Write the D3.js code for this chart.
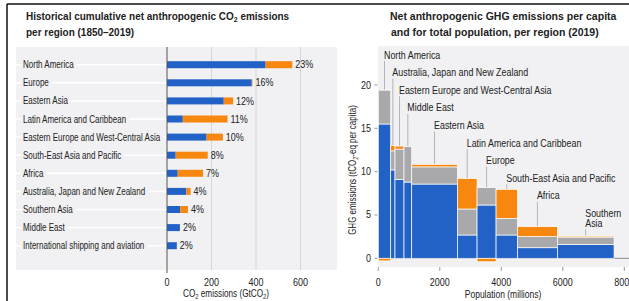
<!DOCTYPE html>
<html>
<head>
  <meta charset="utf-8">
  <title>CO2 and GHG emissions per region</title>
  <script src="https://d3js.org/d3.v7.min.js"></script>
  <style>
    body { margin: 0; background: #fff; }
    svg text { font-family: "Liberation Sans", Arial, sans-serif; fill: #222; }
    .title { font-weight: bold; font-size: 10.5px; }
    .lbl { font-size: 10px; }
  </style>
</head>
<body>
  <svg width="629" height="301"></svg>
  <script>
    // left panel: cumulative CO2 1850-2019 (GtCO2)
    const regions = ["North America", "Europe", "Eastern Asia", "Latin America and Caribbean",
      "Eastern Europe and West-Central Asia", "South-East Asia and Pacific", "Africa",
      "Australia, Japan and New Zealand", "Southern Asia", "Middle East",
      "International shipping and aviation"];
    const fossilCum = [443, 381, 255, 71, 178, 39, 48, 87, 60, 58, 44];
    const lulucfCum = [120, 3, 42, 201, 73, 144, 114, 19, 34, 0, 0];
    const shares = ["23%", "16%", "12%", "11%", "10%", "8%", "7%", "4%", "4%", "2%", "2%"];
    const cumTicks = [0, 200, 400, 600];

    // right panel: per capita GHG 2019 (tCO2-eq per capita) vs population (millions)
    const ghgRegions = ["North America", "Australia, Japan and New Zealand",
      "Eastern Europe and West-Central Asia", "Middle East", "Eastern Asia",
      "Latin America and Caribbean", "Europe", "South-East Asia and Pacific", "Africa",
      "Southern Asia"];
    const population = [403, 140, 293, 250, 1486, 640, 618, 694, 1300, 1843];
    const co2Fossil = [15.5, 10.2, 9.1, 8.8, 8.57, 2.69, 6.15, 2.69, 1.22, 1.6];
    const otherGhg = [3.9, 2.2, 3.5, 4.1, 1.98, 3.0, 2.0, 1.91, 1.28, 0.85];
    const lulucfPc = [-0.3, 0.6, 0.35, 0, 0.29, 3.51, -0.4, 3.36, 1.15, 0.12];
    const pcTicks = [0, 5, 10, 15, 20];
    const popTicks = [0, 2000, 4000, 6000, 8000];

    const BLUE = "#2262c6", ORANGE = "#f7870f", GREY = "#a9a9ac", PANEL = "#f1f1f3";

    const svg = d3.select("svg");
    // the original uses a condensed face, so squeeze text horizontally
    const tf = (x, y, sx) => `translate(${x},${y}) scale(${sx},1)`;

    // frame
    svg.append("line").attr("x1", 7).attr("x2", 629).attr("y1", 4).attr("y2", 4)
      .attr("stroke", "#111").attr("stroke-width", 1.5);
    svg.append("line").attr("x1", 7).attr("x2", 7).attr("y1", 4).attr("y2", 301)
      .attr("stroke", "#111").attr("stroke-width", 1.5);

    // text with subscripts, shift in px
    function sub(sel, parts, shift) {
      let down = false;
      parts.forEach(p => {
        const ts = sel.append("tspan").text(p.t);
        if (p.sub) { ts.attr("font-size", "0.7em").attr("dy", shift); down = true; }
        else if (down) { ts.attr("dy", -shift); down = false; }
      });
    }

    // ---------- left chart ----------
    const L = svg.append("g");
    L.append("rect").attr("x", 16).attr("y", 47).attr("width", 321).attr("height", 223).attr("fill", PANEL);

    const t1 = L.append("text").attr("class", "title").attr("transform", tf(26, 20, 0.95));
    sub(t1, [{t: "Historical cumulative net anthropogenic CO"}, {t: "2", sub: true}, {t: " emissions"}], 2);
    L.append("text").attr("class", "title").attr("transform", tf(26, 36, 0.95)).text("per region (1850–2019)");

    const x = d3.scaleLinear().domain([0, 600]).range([167, 300.5]);
    const y = d3.scalePoint().domain(regions).range([64.7, 245.7]);

    L.selectAll(".grid").data(cumTicks.slice(1)).join("line")
      .attr("x1", d => x(d)).attr("x2", d => x(d)).attr("y1", 47).attr("y2", 270)
      .attr("stroke", "#d6d6d8").attr("stroke-width", 1);

    const LS = 0.8;
    const rows = L.selectAll(".row").data(regions).join("g")
      .attr("transform", d => `translate(0,${y(d)})`);
    rows.append("text").attr("class", "lbl")
      .attr("transform", tf(23, 0, LS)).attr("dy", "0.35em").text(d => d);
    rows.each(function() {
      const g = d3.select(this);
      const w = g.select("text").node().getComputedTextLength() * LS;
      g.insert("line", "text").attr("x1", 23 + w + 3).attr("x2", 166).attr("y1", 0).attr("y2", 0)
        .attr("stroke", "#fff").attr("stroke-width", 1.5);
      g.insert("line", "text").attr("x1", 16).attr("x2", 21).attr("y1", 0).attr("y2", 0)
        .attr("stroke", "#fff").attr("stroke-width", 1.5);
    });

    const bh = 7;
    L.selectAll(".fos").data(regions).join("rect")
      .attr("x", x(0)).attr("y", d => y(d) - bh / 2)
      .attr("width", (d, i) => x(fossilCum[i]) - x(0)).attr("height", bh).attr("fill", BLUE);
    L.selectAll(".luc").data(regions).join("rect")
      .attr("x", (d, i) => x(fossilCum[i])).attr("y", d => y(d) - bh / 2)
      .attr("width", (d, i) => x(lulucfCum[i]) - x(0)).attr("height", bh).attr("fill", ORANGE);
    L.selectAll(".pct").data(regions).join("text").attr("class", "lbl")
      .attr("transform", (d, i) => tf(x(fossilCum[i] + lulucfCum[i]) + 3, y(d), 0.9)).attr("dy", "0.36em")
      .text((d, i) => shares[i]);

    L.append("line").attr("x1", x(0)).attr("x2", x(0)).attr("y1", 47).attr("y2", 273)
      .attr("stroke", "#555").attr("stroke-width", 1);
    L.selectAll(".xt").data(cumTicks).join("text").attr("class", "lbl")
      .attr("transform", d => tf(x(d), 286, 0.9)).attr("text-anchor", "middle").text(d => d);
    const xl = L.append("text").attr("class", "lbl").attr("transform", tf(226, 297, 0.82)).attr("text-anchor", "middle");
    sub(xl, [{t: "CO"}, {t: "2", sub: true}, {t: " emissions (GtCO"}, {t: "2", sub: true}, {t: ")"}], 2);

    // ---------- right chart ----------
    const R = svg.append("g");
    R.append("rect").attr("x", 378).attr("y", 46).attr("width", 251).attr("height", 221).attr("fill", PANEL);

    R.append("text").attr("class", "title").attr("transform", tf(390, 20, 1)).text("Net anthropogenic GHG emissions per capita");
    R.append("text").attr("class", "title").attr("transform", tf(391, 36, 1)).text("and for total population, per region (2019)");

    const px = d3.scaleLinear().domain([0, 8000]).range([378.3, 624.3]);
    const py = d3.scaleLinear().domain([0, 20]).range([258.3, 85]);

    R.append("line").attr("x1", px(0)).attr("x2", 629).attr("y1", py(0)).attr("y2", py(0))
      .attr("stroke", "#8a8a8a").attr("stroke-width", 1);

    const cum = d3.cumsum(population);
    const segs = ghgRegions.map((r, i) => {
      const x0 = cum[i] - population[i], x1 = cum[i];
      const b = co2Fossil[i], g = otherGhg[i], o = lulucfPc[i];
      return {r, i, x0, x1, b, g, o, top: b + g + Math.max(o, 0)};
    });

    const bars = R.selectAll(".reg").data(segs).join("g");
    const stroke = el => el.attr("stroke", "#fff").attr("stroke-width", 0.7);
    bars.append("rect").attr("x", d => px(d.x0)).attr("width", d => px(d.x1) - px(d.x0))
      .attr("y", d => py(d.b)).attr("height", d => py(0) - py(d.b)).attr("fill", BLUE).call(stroke);
    bars.append("rect").attr("x", d => px(d.x0)).attr("width", d => px(d.x1) - px(d.x0))
      .attr("y", d => py(d.b + d.g)).attr("height", d => py(d.b) - py(d.b + d.g)).attr("fill", GREY).call(stroke);
    bars.filter(d => d.o !== 0).append("rect").attr("x", d => px(d.x0)).attr("width", d => px(d.x1) - px(d.x0))
      .attr("y", d => d.o > 0 ? py(d.b + d.g + d.o) : py(0))
      .attr("height", d => Math.abs(py(0) - py(d.o)))
      .attr("fill", ORANGE).call(stroke);

    // region labels with leader lines
    const labY = i => 55 + i * 17.6;
    segs.forEach(d => {
      const cx = px((d.x0 + d.x1) / 2);
      const lines = d.r === "Southern Asia" ? ["Southern", "Asia"] : [d.r];
      const ly = labY(d.i);
      R.append("line").attr("x1", cx).attr("x2", cx)
        .attr("y1", ly + 6 + (lines.length - 1) * 10).attr("y2", py(d.top) - 0.5)
        .attr("stroke", "#b5b5b8").attr("stroke-width", 1);
      lines.forEach((s, k) => {
        R.append("text").attr("class", "lbl").attr("transform", tf(cx - 0.5, ly + k * 10.5, 0.89))
          .attr("dy", "0.35em").text(s);
      });
    });

    R.selectAll(".yt").data(pcTicks).join("text").attr("class", "lbl")
      .attr("transform", d => tf(371, py(d), 0.9)).attr("dy", "0.35em").attr("text-anchor", "end").text(d => d);
    R.selectAll(".ytk").data(pcTicks).join("line")
      .attr("x1", 374.5).attr("x2", 377.5).attr("y1", d => py(d)).attr("y2", d => py(d))
      .attr("stroke", "#999");
    R.selectAll(".xt").data(popTicks).join("text").attr("class", "lbl")
      .attr("transform", d => tf(px(d), 285.5, 0.9)).attr("text-anchor", "middle").text(d => d);
    R.selectAll(".xtk").data(popTicks).join("line")
      .attr("x1", d => px(d)).attr("x2", d => px(d)).attr("y1", 267).attr("y2", 271)
      .attr("stroke", "#999");

    R.append("text").attr("class", "lbl").attr("transform", tf(503, 298, 0.85)).attr("text-anchor", "middle")
      .text("Population (millions)");
    const yl = R.append("text").attr("class", "lbl").attr("text-anchor", "middle")
      .attr("transform", "translate(356,170) rotate(-90) scale(0.8,1)");
    sub(yl, [{t: "GHG emissions (tCO"}, {t: "2", sub: true}, {t: "-eq per capita)"}], 2);
  </script>
</body>
</html>
